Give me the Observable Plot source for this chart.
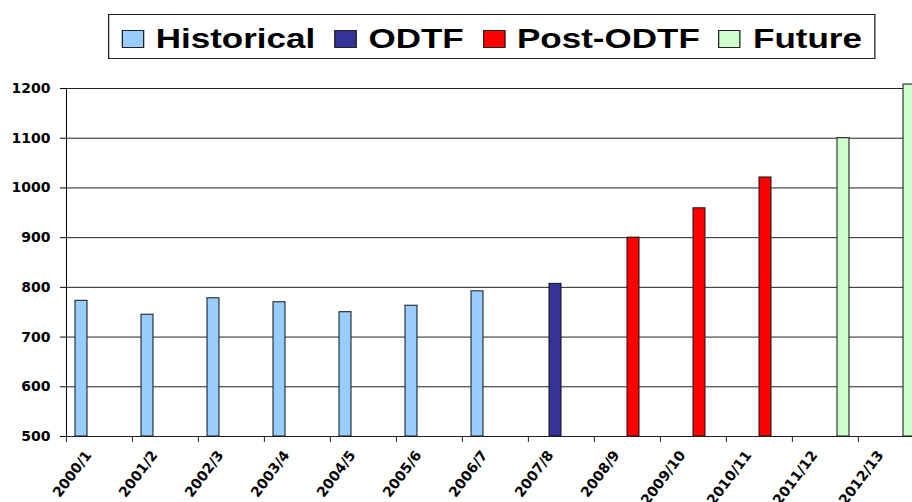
<!DOCTYPE html>
<html>
<head>
<meta charset="utf-8">
<script src="https://cdn.jsdelivr.net/npm/d3@7"></script>
<script src="https://cdn.jsdelivr.net/npm/@observablehq/plot@0.6"></script>
<style>
  html, body { margin: 0; padding: 0; background: #fff; overflow: hidden; width: 912px; height: 502px; }
  #wrap { position: relative; width: 912px; height: 502px; overflow: hidden; }
  #legendArea { position: relative; height: 72px; }
  #legend {
    position: absolute; left: 108px; top: 14px; height: 45px; box-sizing: border-box;
    border: 1px solid #222; display: flex; align-items: center; padding: 4px 9.6px 0 9.6px;
    font: bold 28px "Liberation Sans", Arial, sans-serif; line-height: 28px; white-space: nowrap;
    transform: scaleX(1.25); transform-origin: 0 0; color: #000; background: #fff;
  }
  .item { display: flex; align-items: center; }
  .item + .item { margin-left: 15px; }
  .sw { width: 18px; height: 18px; box-sizing: border-box; border: 1px solid #222; margin-right: 9.6px; }
  #chart svg { max-width: none !important; display: block; }
</style>
</head>
<body>
<div id="wrap">
  <div id="legendArea"><div id="legend"></div></div>
  <div id="chart"></div>
</div>
<script>
const periods = ["2000/1","2001/2","2002/3","2003/4","2004/5","2005/6","2006/7","2007/8","2008/9","2009/10","2010/11","2011/12","2012/13"];
const periodSeries = ["Historical","Historical","Historical","Historical","Historical","Historical","Historical","ODTF","Post-ODTF","Post-ODTF","Post-ODTF","Future","Future"];
const values = [773, 745, 778, 770, 750, 763, 792, 807, 900, 959, 1021, 1100, 1208];
const seriesNames = ["Historical","ODTF","Post-ODTF","Future"];
const seriesColors = ["#99CCFF","#333399","#FF0000","#CCFFCC"];
const yTicks = [500, 600, 700, 800, 900, 1000, 1100, 1200];
const yMin = 500, yMax = 1200;

const rows = periods.map((p, i) => ({period: p, series: periodSeries[i], value: values[i]}));

// legend
const legend = document.getElementById("legend");
seriesNames.forEach((s, i) => {
  const it = document.createElement("div");
  it.className = "item";
  const sw = document.createElement("span");
  sw.className = "sw";
  sw.style.background = seriesColors[i];
  const t = document.createElement("span");
  t.textContent = s;
  it.appendChild(sw); it.appendChild(t);
  legend.appendChild(it);
});

const W = 925, ML = 64, MR = 0;
const bw = (W - ML - MR) / periods.length;

const chart = Plot.plot({
  width: W, height: 430,
  marginLeft: ML, marginRight: MR, marginTop: 16, marginBottom: 66,
  style: {fontFamily: "DejaVu Sans", fontWeight: "bold", fontSize: "14px", color: "#000", background: "#fff", overflow: "visible"},
  facet: {data: rows, x: "period", marginLeft: 0, marginRight: 0},
  fx: {domain: periods, paddingInner: 0, paddingOuter: 0, label: null},
  x: {domain: seriesNames, range: [ML, ML + bw], paddingInner: 0, paddingOuter: 0.72, axis: null},
  y: {domain: [yMin, yMax], ticks: yTicks, tickSize: 6, tickPadding: 10, label: null, line: true, tickFormat: d3.format("d")},
  color: {domain: seriesNames, range: seriesColors},
  marks: [
    Plot.ruleY(yTicks.filter(t => t > yMin), {stroke: "#222", strokeWidth: 1}),
    Plot.barY(rows, {x: "series", y1: yMin, y2: "value", fill: "series", stroke: "#111", strokeWidth: 1, inset: 0}),
    Plot.ruleY([yMin], {stroke: "#222", strokeWidth: 1}),
    Plot.axisFx({anchor: "bottom", tickSize: 6, tickFormat: () => "", dx: -bw / 2, label: null, stroke: "#222"}),
    Plot.axisFx({anchor: "bottom", tickSize: 0, tickRotate: -53, tickPadding: 16, dx: -11, label: null, fontSize: 14})
  ]
});
document.getElementById("chart").appendChild(chart);
</script>
</body>
</html>
